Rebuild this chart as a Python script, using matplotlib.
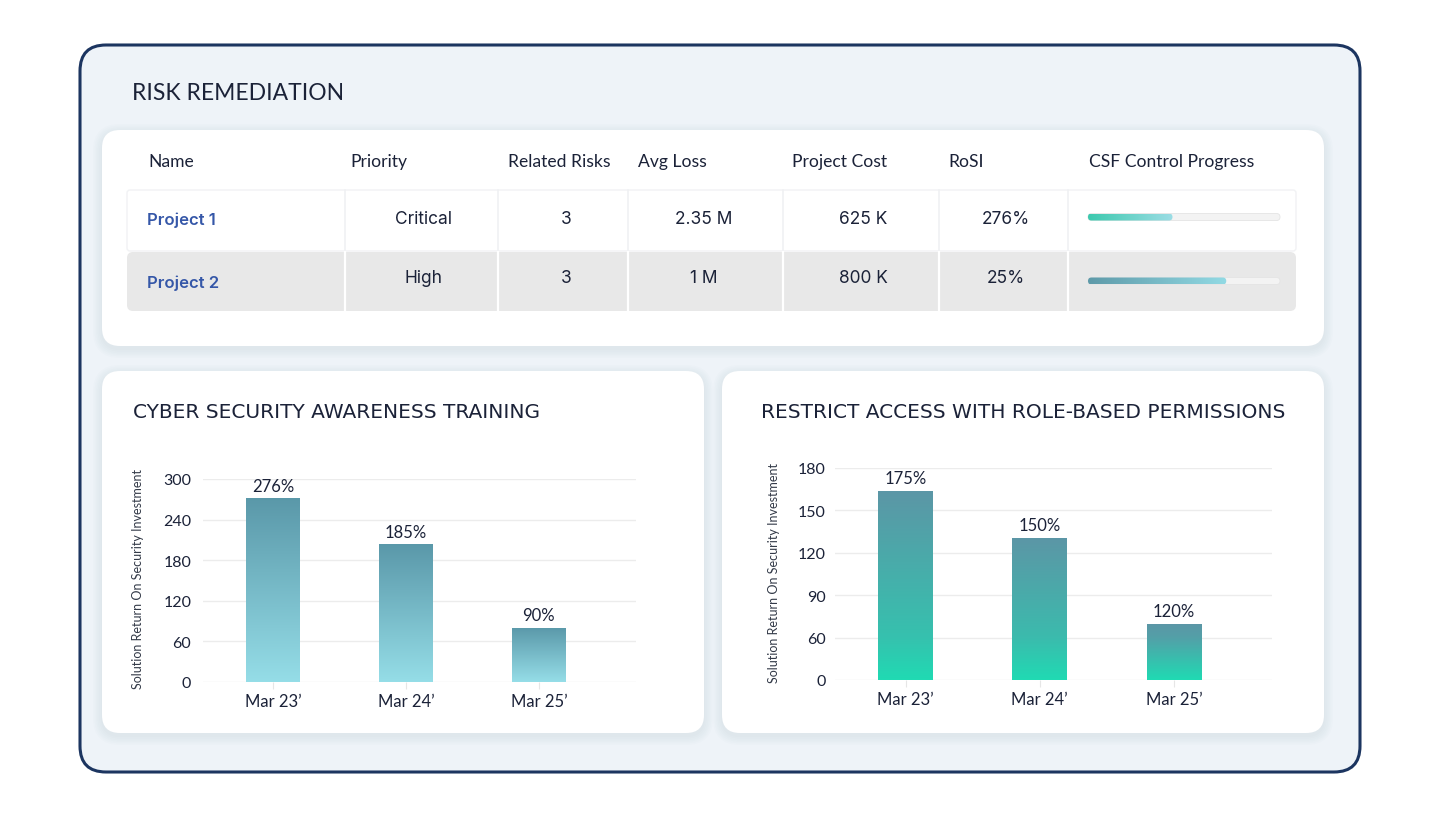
import numpy as np
import matplotlib
matplotlib.use("Agg")
import matplotlib.pyplot as plt
from matplotlib.patches import FancyBboxPatch
from matplotlib.colors import LinearSegmentedColormap

plt.rcParams['font.family'] = ['Lato', 'DejaVu Sans']

# ---- data ----
table_cols = ['Name', 'Priority', 'Related Risks', 'Avg Loss', 'Project Cost', 'RoSI', 'CSF Control Progress']
projects = ['Project 1', 'Project 2']
priority = ['Critical', 'High']
related_risks = ['3', '3']
avg_loss = ['2.35 M', '1 M']
project_cost = ['625 K', '800 K']
rosi = ['276%', '25%']
csf_progress = [0.44, 0.72]

months = ["Mar 23\u2019", "Mar 24\u2019", "Mar 25\u2019"]
training_vals = [272, 204, 81]
training_labels = ['276%', '185%', '90%']
training_ticks = [0, 60, 120, 180, 240, 300]
access_vals = [164, 131, 70]
access_labels = ['175%', '150%', '120%']
access_ticks = [0, 60, 90, 120, 150, 180]

NAVY = '#1b2238'
BLUE = '#3557a8'

fig = plt.figure(figsize=(14.4, 8.2), dpi=100)
fig.patch.set_facecolor('white')
bg = fig.add_axes([0, 0, 1, 1], zorder=0)
bg.set_axis_off()


def card(x0, y0, x1, y1, r, fc, ec='none', lw=0, shadow=True, z=1):
    if shadow:
        for k in range(6):
            g = 1 + k * 1.6
            bg.add_patch(FancyBboxPatch((x0 - g, y0 - g + 3), x1 - x0 + 2 * g, y1 - y0 + 2 * g,
                                        boxstyle=f"round,pad=0,rounding_size={r + g}",
                                        fc='#7f90a8', ec='none', alpha=0.018, zorder=z - 0.5))
    p = FancyBboxPatch((x0, y0), x1 - x0, y1 - y0, boxstyle=f"round,pad=0,rounding_size={r}",
                       fc=fc, ec=ec, lw=lw, zorder=z)
    bg.add_patch(p)
    return p


def hgrad(x0, x1, yc, h, c0, c1, clip, z):
    cm = LinearSegmentedColormap.from_list('g', [c0, c1])
    im = bg.imshow(np.linspace(0, 1, 256).reshape(1, -1), cmap=cm, aspect='auto',
                   extent=(x0, x1, yc + h / 2, yc - h / 2), zorder=z)
    im.set_clip_path(clip)


# outer frame
card(80, 46, 1360, 773, 26, '#eef3f8', ec='#1c3560', lw=2.2, shadow=False, z=1)
bg.text(132, 93, 'RISK REMEDIATION', fontsize=16.5, color=NAVY, va='center', ha='left', zorder=5)

# table card
card(102, 131, 1324, 347, 18, 'white', z=2)
col_x = [148, 350, 508, 638, 792, 948, 1089]
for cx, name in zip(col_x, table_cols):
    bg.text(cx, 162, name, fontsize=12.6, color=NAVY, va='center', ha='left', zorder=5)

bounds = [127, 345, 498, 628, 783, 939, 1068, 1296]
# row 1
card(127, 191, 1296, 252, 3, 'white', ec='#f1f2f4', lw=1, shadow=False, z=3)
# row 2
card(127, 253, 1296, 312, 6, '#e8e8e8', shadow=False, z=3)
for bx in bounds[1:-1]:
    bg.plot([bx, bx], [191, 252], color='#f0f1f3', lw=1.2, zorder=3.5)
    bg.plot([bx, bx], [253, 312], color='white', lw=1.6, zorder=3.5)

name_y = [220, 283]
val_y = [219, 279]
centers = [423, 566, 704, 863, 1006]
for i in range(2):
    bg.text(147, name_y[i], projects[i], fontsize=12, color=BLUE, fontweight='semibold',
            family=['Inter', 'DejaVu Sans'], va='center', ha='left', zorder=5)
    vals = [priority[i], related_risks[i], avg_loss[i], project_cost[i], rosi[i]]
    for cx, v in zip(centers, vals):
        bg.text(cx, val_y[i], v, fontsize=12.5, color=NAVY, family=['Inter', 'DejaVu Sans'],
                va='center', ha='center', zorder=5)

# progress bars
track_x0, track_x1, th = 1088, 1280, 7
grads = [('#3cc9ae', '#9cdde5'), ('#5e9aa9', '#92dae4')]
for i in range(2):
    yc = [218, 282][i]
    trk = FancyBboxPatch((track_x0, yc - th / 2), track_x1 - track_x0, th,
                         boxstyle=f"round,pad=0,rounding_size={th / 2}",
                         fc='#f3f3f3', ec='#e4e4e4', lw=0.6, zorder=6)
    bg.add_patch(trk)
    fx1 = track_x0 + csf_progress[i] * (track_x1 - track_x0)
    clip = FancyBboxPatch((track_x0, yc - th / 2), fx1 - track_x0, th,
                          boxstyle=f"round,pad=0,rounding_size={th / 2}",
                          fc='none', ec='none', transform=bg.transData)
    bg.add_patch(clip)
    hgrad(track_x0, fx1, yc, th, grads[i][0], grads[i][1], clip, 7)

# chart cards
card(102, 372, 704, 734, 18, 'white', z=2)
card(722, 372, 1324, 734, 18, 'white', z=2)
bg.text(133, 413, 'CYBER SECURITY AWARENESS TRAINING', fontsize=14.5, color=NAVY,
        family=['DejaVu Sans'], va='center', ha='left', zorder=5)
bg.text(761, 413, 'RESTRICT ACCESS WITH ROLE-BASED PERMISSIONS', fontsize=14.5, color=NAVY,
        family=['DejaVu Sans'], va='center', ha='left', zorder=5)

bg.set_xlim(0, 1440)
bg.set_ylim(820, 0)


def bar_chart(px0, px1, py0, py1, ticks, vals, labels, c_top, c_bot, ylab_x, pad):
    ax = fig.add_axes([px0 / 1440, 1 - py0 / 820, (px1 - px0) / 1440, (py0 - py1) / 820], zorder=3)
    ax.patch.set_alpha(0)
    # tick labels are evenly spaced even when the steps are not
    t = np.array(ticks, dtype=float)
    s = np.arange(len(t), dtype=float)
    ax.set_yscale('function', functions=(lambda v: np.interp(v, t, s), lambda u: np.interp(u, s, t)))
    x = np.arange(len(vals))
    bars = ax.bar(x, vals, width=0.41, color='none', zorder=3)
    cm = LinearSegmentedColormap.from_list('b', [c_bot, c_top])
    for b, lab in zip(bars, labels):
        x0, w, h = b.get_x(), b.get_width(), b.get_height()
        im = ax.imshow(np.linspace(0, 1, 256).reshape(-1, 1), cmap=cm, origin='lower', aspect='auto',
                       extent=(x0, x0 + w, 0, h), zorder=3)
        im.set_clip_path(b)
        ax.annotate(lab, (x0 + w / 2, h), xytext=(0, 3), textcoords='offset points',
                    ha='center', va='bottom', fontsize=12, color=NAVY, annotation_clip=False)
    ax.set_xlim(-0.526, 2.73)
    ax.set_ylim(ticks[0], ticks[-1])
    ax.set_yticks(ticks)
    ax.set_yticklabels([str(v) for v in ticks])
    ax.minorticks_off()
    ax.set_xticks(x)
    ax.set_xticklabels(months, fontsize=12, color=NAVY)
    ax.tick_params(axis='y', length=0, pad=pad, labelsize=11.5, labelcolor=NAVY)
    ax.tick_params(axis='x', length=5, color='#e6e6e6', pad=3)
    for sp in ax.spines.values():
        sp.set_visible(False)
    ax.grid(axis='y', color='#ececec', lw=1, zorder=0)
    ax.set_axisbelow(True)
    fig.text(ylab_x / 1440, 1 - ((py0 + py1) / 2 - 2) / 820, 'Solution Return On Security Investment',
             rotation=90, ha='center', va='center', fontsize=9, color='#333a48')
    return ax


bar_chart(203, 636, 683, 480, training_ticks, training_vals, training_labels,
          '#5a98a9', '#95dde7', 138, 8.5)
bar_chart(835, 1272, 681, 469, access_ticks, access_vals, access_labels,
          '#5c96a6', '#20dab3', 774, 6.5)

fig.savefig('out.png', dpi=100, facecolor='white')
